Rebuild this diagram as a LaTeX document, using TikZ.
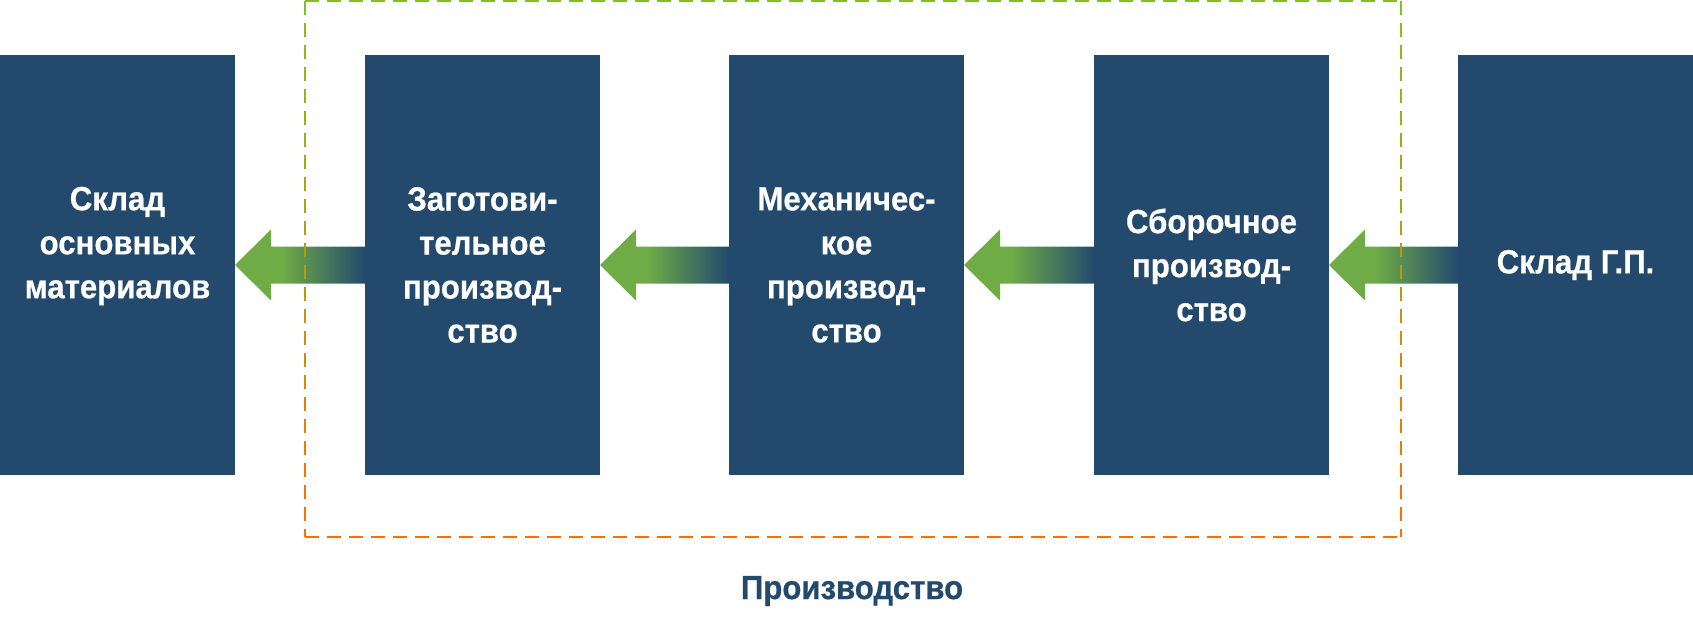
\documentclass[tikz,border=0pt]{standalone}
\usepackage{fontspec}
\setmainfont{Liberation Sans}[FakeStretch=0.93]
\newfontfamily\heavyfont{Liberation Sans Bold}[FakeStretch=0.93,FakeBold=0.6]
\usetikzlibrary{calc}
\definecolor{boxblue}{HTML}{234A6D}
\definecolor{agreen}{HTML}{6FAC46}
\definecolor{dgreen}{HTML}{7CC31E}
\definecolor{dorange}{HTML}{FF6D00}
\pgfdeclarehorizontalshading{arrowshade}{100bp}{color(0bp)=(agreen); color(25bp)=(agreen); color(43bp)=(agreen); color(75bp)=(boxblue); color(100bp)=(boxblue)}
\begin{document}
\begin{tikzpicture}[x=1pt,y=-1pt,
  box/.style={fill=boxblue, minimum width=235pt, minimum height=420pt, inner sep=0pt, outer sep=0pt,
    text=white, font=\heavyfont\fontsize{33.5}{44}\selectfont, align=center},
  boxtext/.style={text=white, font=\heavyfont\fontsize{33.5}{44}\selectfont, align=center, inner sep=0pt},
  fatarrow/.style={shading=arrowshade, draw=none},
  frameline/.style={line width=2pt, dash pattern=on 14pt off 8pt},
  caption/.style={text=boxblue, font=\heavyfont\fontsize{33.5}{40}\selectfont, inner sep=0pt}]
\useasboundingbox (0,0) rectangle (1693,631);

% boxes
\node[box] (b1) at (117.5,265) {};
\node[boxtext] (t1) at ([yshift=19pt]b1.center) {Склад\\основных\\материалов};
\node[box] (b2) at (482.5,265) {Заготови-\\тельное\\производ-\\ство};
\node[box] (b3) at (846.5,265) {Механичес-\\кое\\производ-\\ство};
\node[box] (b4) at (1211.5,265) {Сборочное\\производ-\\ство};
\node[box] (b5) at (1575.5,265) {Склад Г.П.};

% arrows (from right box to left box)
\foreach \l/\r in {b1/b2,b2/b3,b3/b4,b4/b5}{
  \shade[fatarrow] (\l.east) -- ($(\l.east)+(36,-35.5)$) -- ($(\l.east)+(36,-18.5)$)
    -- ($(\r.west)+(0,-18.5)$) -- ($(\r.west)+(0,18.5)$) -- ($(\l.east)+(36,18.5)$)
    -- ($(\l.east)+(36,35.5)$) -- cycle;
}

% dashed frame with vertical colour gradient
\draw[frameline, dgreen] (305,1) -- (1401,1);
\draw[frameline, dorange] (305,537) -- (1401,537);
\foreach \i in {0,...,24}{
  \pgfmathsetmacro\ya{1+\i*22}
  \pgfmathsetmacro\yb{min(\ya+14,537)}
  \pgfmathtruncatemacro\p{min(100,round((\ya+7)/5.37))}
  \draw[line width=2pt, color=dorange!\p!dgreen] (305,\ya) -- (305,\yb);
  \draw[line width=2pt, color=dorange!\p!dgreen] (1401,\ya) -- (1401,\yb);
}

\node[caption] (cap) at (852,591) {Производство};
\end{tikzpicture}
\end{document}
